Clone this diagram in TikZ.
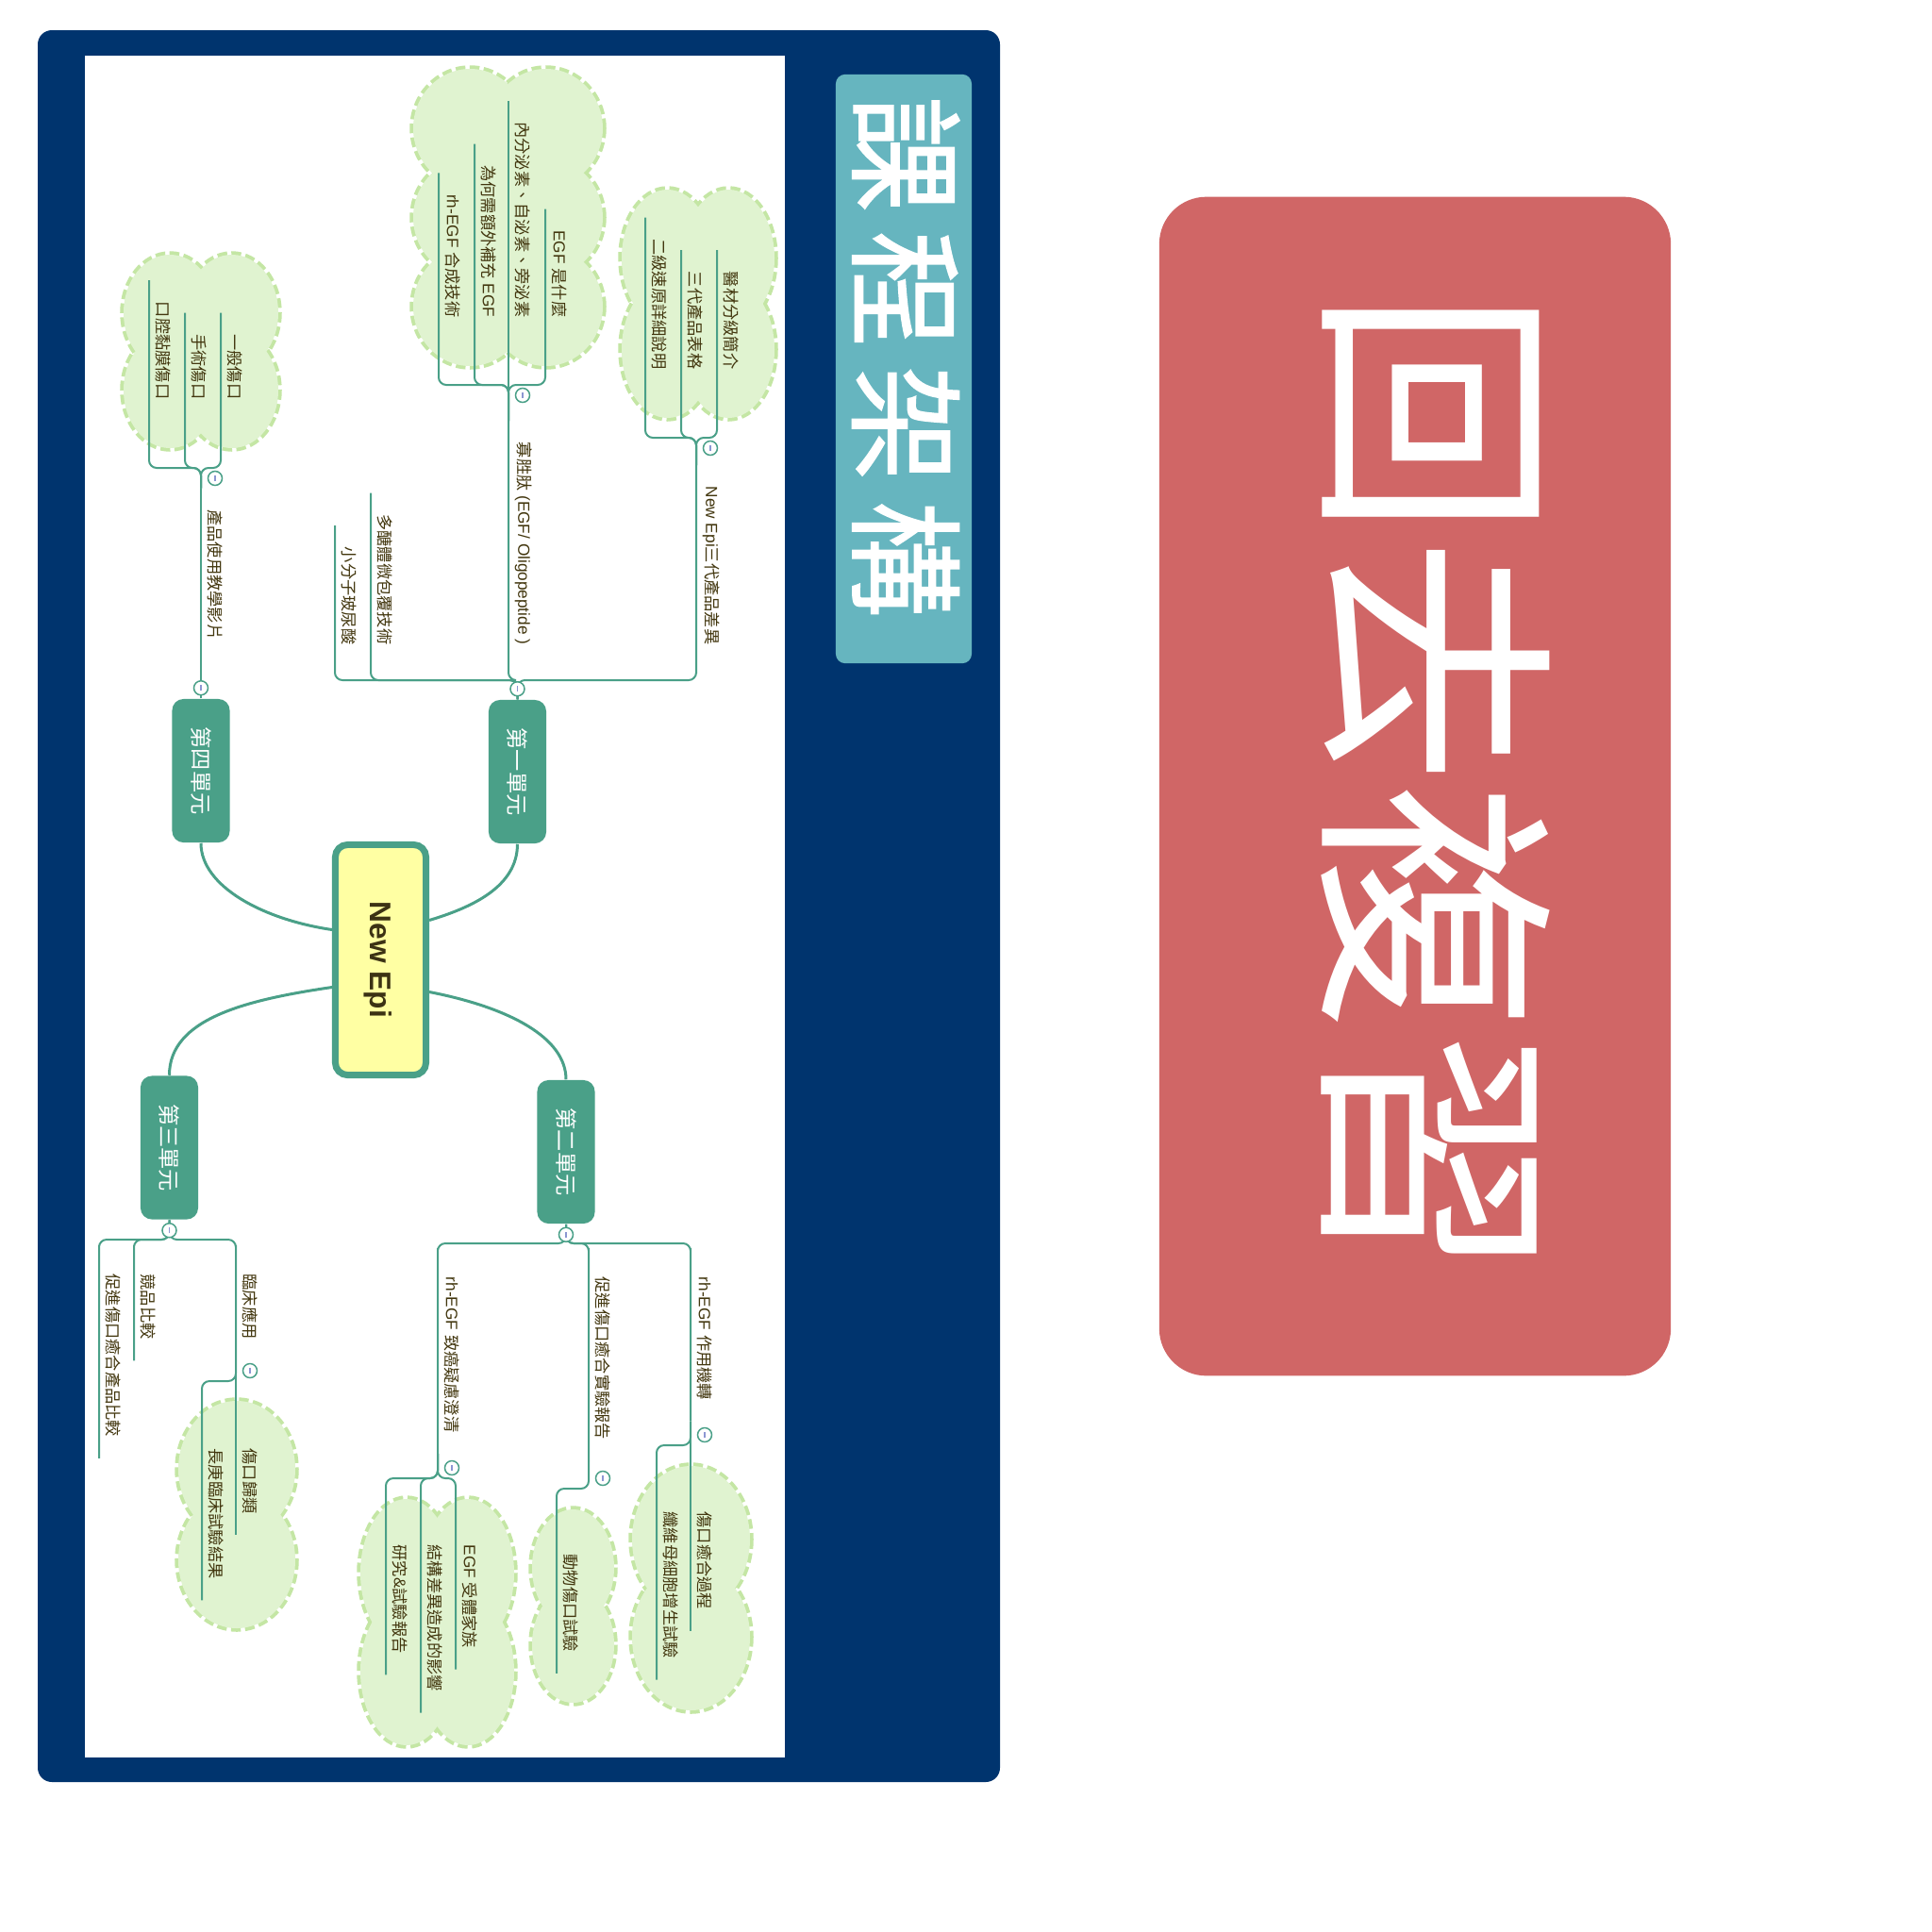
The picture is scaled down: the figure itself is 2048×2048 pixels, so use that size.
\documentclass[tikz,border=0pt]{standalone}
\usepackage{fontspec}
\setmainfont{Liberation Sans}
\newfontfamily\cjk{Noto Sans CJK TC}
\newfontfamily\cjkmid{Noto Sans CJK TC}[FakeBold=1.2]
\usetikzlibrary{positioning,calc}

\definecolor{framec}{RGB}{0,52,110}
\definecolor{titlec}{RGB}{102,181,191}
\definecolor{redc}{RGB}{208,102,102}
\definecolor{branchc}{RGB}{74,160,136}
\definecolor{inkc}{RGB}{66,54,14}
\definecolor{cloudc}{RGB}{224,243,208}
\definecolor{cloudb}{RGB}{196,230,164}
\definecolor{centrec}{RGB}{255,255,163}
\definecolor{newepic}{RGB}{60,50,20}
\definecolor{barc}{RGB}{140,150,210}

\newcommand\vtext[1]{\rotatebox{-90}{\rule[-0.12em]{0pt}{1em}#1}}
\newcommand\en[1]{{\rmfamily #1}}
\newcommand\foldbar{\textcolor{barc}{\rule[-0.03cm]{0.015cm}{0.06cm}}}
% cloud: x0 y0 x1 y1 cols rows
\newcommand\greencloud[6]{%
  \pgfmathsetmacro\rx{#5>1 ? 1.2*(#3-#1)/(2*#5) : (#3-#1)/2}%
  \pgfmathsetmacro\ry{#6>1 ? 1.2*(#4-#2)/(2*#6) : (#4-#2)/2}%
  \pgfmathsetmacro\sx{(#3-#1-2*\rx)/max(#5-1,1)}%
  \pgfmathsetmacro\sy{(#4-#2-2*\ry)/max(#6-1,1)}%
  \foreach \i in {1,...,#5}{\foreach \j in {1,...,#6}{%
    \draw[cloud edge] ({#1+\rx+(\i-1)*\sx},{#2+\ry+(\j-1)*\sy}) ellipse [x radius=\rx,y radius=\ry];}}%
  \foreach \i in {1,...,#5}{\foreach \j in {1,...,#6}{%
    \fill[cloudc] ({#1+\rx+(\i-1)*\sx},{#2+\ry+(\j-1)*\sy}) ellipse [x radius=\rx,y radius=\ry];}}%
  \fill[cloudc] ({#1+\rx},{#2+\ry}) rectangle ({#3-\rx},{#4-\ry});%
}

\begin{document}
\begin{tikzpicture}[x=0.01cm,y=-0.01cm,
    branch/.style={draw=branchc,line width=0.02cm,rounded corners=0.08cm},
    stem/.style={draw=branchc,line width=0.03cm},
    cloud edge/.style={draw=cloudb,line width=0.075cm,dash pattern=on 0.1cm off 0.045cm},
    leaf/.style={inner xsep=0.062cm,inner ysep=0.22cm,text=inkc,font=\cjk\fontsize{4.9}{5}\selectfont},
    unit node/.style={fill=branchc,rounded corners=0.12cm,minimum width=0.61cm,minimum height=1.52cm,inner sep=0pt,text=white,font=\cjk\fontsize{6.6}{7}\selectfont},
    fold/.style={circle,draw=branchc,fill=white,line width=0.015cm,minimum size=0.15cm,inner sep=0pt}]
  \fill[white] (0,0) rectangle (2048,2048);
  \useasboundingbox (0,0) rectangle (2048,2048);

  % frame and titles
  \fill[framec,rounded corners=0.15cm] (40,32) rectangle (1060,1889);
  \fill[white] (90,59) rectangle (832,1863);
  \node[fill=titlec,rounded corners=0.1cm,minimum width=1.44cm,minimum height=6.24cm] (tb) at (958,391) {};
  \node[text=white,font=\cjkmid\fontsize{35}{36}\selectfont] (tt) at (960,378) {\vtext{課\kern5.7pt 程\kern5.7pt 架\kern5.7pt 構}};
  \node[fill=redc,rounded corners=0.5cm,minimum width=5.42cm,minimum height=12.49cm] (rb) at (1500,833.5) {};
  \node[text=white,font=\cjk\fontsize{74.5}{75}\selectfont] (rt) at (1522,831) {\vtext{回去複習}};

  % clouds
  \greencloud{131}{270}{295}{475}{2}{2}
  \greencloud{438}{73}{639}{388}{2}{3}
  \greencloud{659}{201}{821}{443}{2}{2}
  \greencloud{189}{1485}{313}{1726}{1}{2}
  \greencloud{382}{1589}{545}{1850}{2}{2}
  \greencloud{564}{1600}{651}{1805}{1}{2}
  \greencloud{670}{1554}{795}{1813}{1}{2}

  % centre and units
  \node[draw=branchc,line width=0.07cm,fill=centrec,rounded corners=0.13cm,minimum width=0.96cm,minimum height=2.44cm,inner sep=0pt,text=newepic,font=\bfseries\fontsize{9}{10}\selectfont] (ce) at (403.5,1017.5) {\vtext{New Epi}};
  \node[unit node] (u4) at (213,817) {\vtext{第四單元}};
  \node[unit node] (u1) at (548.5,818) {\vtext{第一單元}};
  \node[unit node] (u3) at (179.5,1216.5) {\vtext{第三單元}};
  \node[unit node] (u2) at (600,1221) {\vtext{第二單元}};

  \draw[stem] ($(ce.west)+(0,-32)$) .. controls (280,975) and (213,940) .. (u4.south);
  \draw[stem] ($(ce.east)+(0,-42)$) .. controls (500,962) and (548.5,940) .. (u1.south);
  \draw[stem] ($(ce.west)+(0,29)$) .. controls (260,1060) and (179.5,1080) .. (u3.north);
  \draw[stem] ($(ce.east)+(0,34)$) .. controls (540,1068) and (600,1100) .. (u2.north);

  % unit 4
  \node[leaf,anchor=south west] (k4) at (213,701) {\vtext{產品使用教學影片}};
  \node[leaf,anchor=south west] (g41) at (234,446) {\vtext{一般傷口}};
  \node[leaf,anchor=south west] (g42) at (196,446) {\vtext{手術傷口}};
  \node[leaf,anchor=south west] (g43) at (158,446) {\vtext{口腔黏膜傷口}};
  \coordinate (b4) at (213,496);
  \draw[branch] (u4.north) -- (k4.south west) -- (k4.north west);
  \draw[branch] (k4.north west) -- (b4) -| (g41.south west) -- (g41.north west);
  \draw[branch] (k4.north west) -- (b4) -| (g42.south west) -- (g42.north west);
  \draw[branch] (k4.north west) -- (b4) -| (g43.south west) -- (g43.north west);

  % unit 1
  \node[leaf,anchor=south west] (k11) at (355,706) {\vtext{小分子玻尿酸}};
  \node[leaf,anchor=south west] (k12) at (393,706) {\vtext{多醣體微包覆技術}};
  \node[leaf,anchor=south west] (k13) at (539,706) {\vtext{寡胜肽\en{ (EGF/ Oligopeptide )}}};
  \node[leaf,anchor=south west] (k14) at (738,706) {\vtext{\en{New Epi}三代產品差異}};
  \coordinate (b1) at (548.5,721);
  \draw[branch] (u1.north) -- (b1) -| (k11.south west) -- (k11.north west);
  \draw[branch] (u1.north) -- (b1) -| (k12.south west) -- (k12.north west);
  \draw[branch] (u1.north) -- (b1) -| (k13.south west) -- (k13.north west);
  \draw[branch] (u1.north) -- (b1) -| (k14.south west) -- (k14.north west);

  \node[leaf,anchor=south west] (g131) at (465,359) {\vtext{\en{rh-EGF }合成技術}};
  \node[leaf,anchor=south west] (g132) at (503,359) {\vtext{為何需額外補充\en{ EGF}}};
  \node[leaf,anchor=south west] (g133) at (539,359) {\vtext{內分泌素、自泌素、旁泌素}};
  \node[leaf,anchor=south west] (g134) at (578,359) {\vtext{\en{EGF }是什麼}};
  \coordinate (b13) at (539,408);
  \foreach \g in {g131,g132,g133,g134}
    \draw[branch] (k13.north west) -- (b13) -| (\g.south west) -- (\g.north west);

  \node[leaf,anchor=south west] (g141) at (684,414) {\vtext{二級速原詳細說明}};
  \node[leaf,anchor=south west] (g142) at (722,414) {\vtext{三代產品表格}};
  \node[leaf,anchor=south west] (g143) at (760,414) {\vtext{醫材分級簡介}};
  \coordinate (b14) at (738,464);
  \foreach \g in {g141,g142,g143}
    \draw[branch] (k14.north west) -- (b14) -| (\g.south west) -- (\g.north west);

  % unit 3
  \node[leaf,anchor=north west] (k31) at (105,1328) {\vtext{促進傷口癒合產品比較}};
  \node[leaf,anchor=north west] (k32) at (142,1328) {\vtext{競品比較}};
  \node[leaf,anchor=north west] (k33) at (250,1328) {\vtext{臨床應用}};
  \coordinate (b3) at (179.5,1314);
  \foreach \k in {k31,k32,k33}
    \draw[branch] (u3.south) -- (b3) -| (\k.north west) -- (\k.south west);

  \node[leaf,anchor=north west] (g331) at (250,1513) {\vtext{傷口歸類}};
  \node[leaf,anchor=north west] (g332) at (214,1513) {\vtext{長庚臨床試驗結果}};
  \coordinate (b33) at (250,1464);
  \foreach \g in {g331,g332}
    \draw[branch] (k33.south west) -- (b33) -| (\g.north west) -- (\g.south west);

  % unit 2
  \node[leaf,anchor=north west] (k21) at (464,1331) {\vtext{\en{rh-EGF }致癌疑慮澄清}};
  \node[leaf,anchor=north west] (k22) at (624,1331) {\vtext{促進傷口癒合實驗報告}};
  \node[leaf,anchor=north west] (k23) at (732,1331) {\vtext{\en{rh-EGF }作用機轉}};
  \coordinate (b2) at (600,1318);
  \foreach \k in {k21,k22,k23}
    \draw[branch] (u2.south) -- (b2) -| (\k.north west) -- (\k.south west);

  \node[leaf,anchor=north west] (g211) at (483,1615) {\vtext{\en{EGF }受體家族}};
  \node[leaf,anchor=north west] (g212) at (446,1615) {\vtext{結構差異造成的影響}};
  \node[leaf,anchor=north west] (g213) at (409,1615) {\vtext{研究\en{\&}試驗報告}};
  \coordinate (b21) at (464,1567);
  \foreach \g in {g211,g212,g213}
    \draw[branch] (k21.south west) -- (b21) -| (\g.north west) -- (\g.south west);

  \node[leaf,anchor=north west] (g221) at (590,1625) {\vtext{動物傷口試驗}};
  \coordinate (b22) at (624,1578);
  \draw[branch] (k22.south west) -- (b22) -| (g221.north west) -- (g221.south west);

  \node[leaf,anchor=north west] (g231) at (732,1580) {\vtext{傷口癒合過程}};
  \node[leaf,anchor=north west] (g232) at (696,1580) {\vtext{纖維母細胞增生試驗}};
  \coordinate (b23) at (732,1532);
  \foreach \g in {g231,g232}
    \draw[branch] (k23.south west) -- (b23) -| (\g.north west) -- (\g.south west);

  % fold buttons
  \node[fold] (o4) at ($(u4.north)+(0,-11)$) {\foldbar};
  \node[fold] (o1) at ($(u1.north)+(0,-11)$) {\foldbar};
  \node[fold] (o3) at ($(u3.south)+(0,11)$) {\foldbar};
  \node[fold] (o2) at ($(u2.south)+(0,11)$) {\foldbar};
  \node[fold] (f4) at (228,507) {\foldbar};
  \node[fold] (f13) at (554,419) {\foldbar};
  \node[fold] (f14) at (753,475) {\foldbar};
  \node[fold] (f33) at (265,1453) {\foldbar};
  \node[fold] (f21) at (479,1556) {\foldbar};
  \node[fold] (f22) at (639,1567) {\foldbar};
  \node[fold] (f23) at (747,1521) {\foldbar};
\end{tikzpicture}
\end{document}
